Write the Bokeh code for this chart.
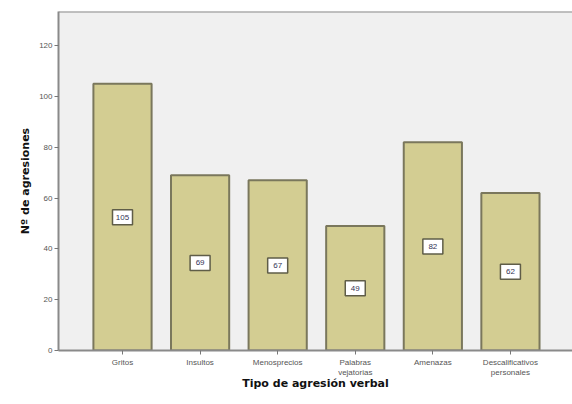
from bokeh.plotting import figure
from bokeh.models import ColumnDataSource, FixedTicker, Range1d, Span
from bokeh.core.properties import value
from bokeh.embed import file_html
from bokeh.resources import INLINE

# Verbal aggression counts by type
categories = ["Gritos", "Insultos", "Menosprecios", "Palabras\nvejatorias",
              "Amenazas", "Descalificativos\npersonales"]
counts = [105, 69, 67, 49, 82, 62]
y_ticks = [0, 20, 40, 60, 80, 100, 120]

xs = [i + 0.5 for i in range(len(categories))]
src = ColumnDataSource(dict(
    x=xs,
    top=counts,
    mid=[c / 2 for c in counts],
    label=[str(c) for c in counts],
))

Y_END = 133.5

p = figure(width=572, height=404, output_backend="svg", toolbar_location=None,
           x_range=Range1d(-0.325, 6.3), y_range=Range1d(0, Y_END),
           min_border_left=58, min_border_right=0, min_border_top=11,
           min_border_bottom=54)

p.background_fill_color = "#f0f0f0"
p.border_fill_color = "white"
p.outline_line_color = None
p.xgrid.visible = False
p.ygrid.visible = False

p.vbar(x="x", top="top", bottom=0, width=0.75, source=src,
       fill_color="#d3cd92", line_color="#7a775c", line_width=2)

# value boxes at mid-height of each bar
p.rect(x="x", y="mid", width=20, height=15, width_units="screen",
       height_units="screen", source=src, fill_color="white",
       line_color="#5f5d48", line_width=1.5)
p.text(x="x", y="mid", text="label", source=src, text_align="center",
       text_baseline="middle", text_font=value("Liberation Sans"),
       text_font_size="8px", text_color="#333355")

# frame top edge
p.add_layout(Span(location=Y_END, dimension="width", line_color="#8a8a8a",
                  line_width=2))

p.xaxis.ticker = FixedTicker(ticks=xs)
p.xaxis.major_label_overrides = {x: c for x, c in zip(xs, categories)}
p.yaxis.ticker = FixedTicker(ticks=y_ticks)

for ax in (p.xaxis, p.yaxis):
    ax.axis_line_color = "#8a8a8a"
    ax.axis_line_width = 2
    ax.major_tick_line_color = "#777777"
    ax.major_tick_in = 0
    ax.major_tick_out = 4
    ax.minor_tick_line_color = None
    ax.major_label_text_font = "Liberation Sans"
    ax.major_label_text_font_size = "8px"
    ax.major_label_text_color = "#555555"
    ax.axis_label_text_font = "DejaVu Sans"
    ax.axis_label_text_font_style = "bold"
    ax.axis_label_text_font_size = "11px"
    ax.axis_label_text_color = "#111111"

p.xaxis.axis_label = "Tipo de agresión verbal"
p.yaxis.axis_label = "Nº de agresiones"
p.xaxis.major_label_standoff = 3
p.xaxis.axis_label_standoff = -3
p.yaxis.major_label_standoff = 2
p.yaxis.axis_label_standoff = 4

open("out.html", "w").write(file_html(p, INLINE))
